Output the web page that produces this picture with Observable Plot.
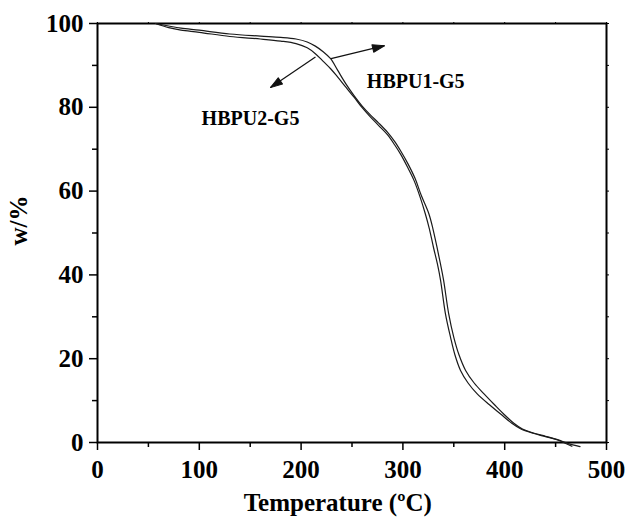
<!DOCTYPE html>
<html><head><meta charset="utf-8">
<script src="https://cdn.jsdelivr.net/npm/d3@7"></script>
<script src="https://cdn.jsdelivr.net/npm/@observablehq/plot@0.6"></script>
<style>body{margin:0;background:#fff}</style>
</head><body><div id="chart"></div>
<script>
// HBPU1-G5 (upper curve on the plateau)
const temp1 = [57,70,82,100,130,160,180,195,206,214,222,229,236,244,252,260,268,276,285,292,298,305,312,318,325.5,329.5,333.5,337,340,345,350,355,361.6,370,379.7,390,399,409,417,429,440,452,462,474];
const w1    = [100,99.4,98.9,98.4,97.5,97.0,96.7,96.3,95.6,94.6,93.2,91.6,88.8,85.6,82.8,80.3,78.2,76.3,74,71.8,69.5,66.5,63,59,54.6,51,46.6,42.5,38.7,30.7,25.1,21,17.2,14.2,11.6,9,6.8,4.6,3.3,2.2,1.5,0.7,-0.2,-1];
// HBPU2-G5 (lower curve on the plateau)
const temp2 = [57,70,82,100,130,160,180,195,206,214,222,229,236,244,252,260,268,276,285,292,298,305,311,317,322,326,330,334,337,341.8,346.8,351,356.6,364,373,385,396,407,415.5,428,440,452,466];
const w2    = [100,99.0,98.4,97.9,96.9,96.3,95.8,95.2,94.2,92.8,90.9,89.2,87.2,84.8,82.4,79.9,77.7,75.7,73.4,71,68.7,65.5,62.5,58.5,54.6,51,46.6,42.5,38.7,30.7,25.1,21,17.2,14.2,11.6,9,6.8,4.6,3.3,2.2,1.4,0.6,-0.9];

const labelText = ["HBPU1-G5","HBPU2-G5"];
const labelX = [312.6,150.3];
const labelY = [86.2,77.2];
const arrowX1 = [229.4,214.1], arrowY1 = [91.6,92.0];
const arrowX2 = [281.9,169.9], arrowY2 = [94.7,84.7];

const xTicks = [0,100,200,300,400,500];
const xMinor = [50,150,250,350,450];
const yTicks = [0,20,40,60,80,100];
const yMinor = [10,30,50,70,90];
const xTitle = "Temperature (ºC)";
const xTitlePos = 236;
const yTitle = "w/%";
const yTitlePos = 53;

const W = 627, H = 518, mL = 97, mR = 21, mT = 23, mB = 76;
const kx = (W - mL - mR) / 500, ky = (H - mT - mB) / 100;

const s1 = temp1.map((t,i)=>({t, w:w1[i]}));
const s2 = temp2.map((t,i)=>({t, w:w2[i]}));
const labels = labelText.map((s,i)=>({s, x:labelX[i], y:labelY[i]}));
const arrows = arrowX1.map((_,i)=>({x1:arrowX1[i],y1:arrowY1[i],x2:arrowX2[i],y2:arrowY2[i]}));
// direction of each arrow on screen (degrees clockwise from up)
const rot = d => Math.atan2((d.x2-d.x1)*kx, (d.y2-d.y1)*ky) * 180 / Math.PI;
const headShape = {draw(ctx, l){ ctx.moveTo(0,-l); ctx.lineTo(-3.8,0); ctx.lineTo(3.8,0); ctx.closePath(); }};

const font = {fontFamily:"Liberation Serif", fontWeight:"bold"};
const plot = Plot.plot({
  width: W, height: H,
  marginLeft: mL, marginRight: mR, marginTop: mT, marginBottom: mB,
  style: {fontFamily:"Liberation Serif", fontWeight:"bold", background:"#fff", color:"#000"},
  x: {domain:[0,500]},
  y: {domain:[0,100]},
  marks: [
    Plot.axisX({ticks:xMinor, tickSize:5, tickFormat:()=>"", strokeWidth:1.5, label:null}),
    Plot.axisX({anchor:"top", ticks:[...xTicks,...xMinor], tickSize:2, tickFormat:()=>"", label:null}),
    Plot.axisX({ticks:xTicks, tickSize:8, tickPadding:10, strokeWidth:1.5, fontSize:25, ...font, label:null}),
    Plot.axisY({ticks:yMinor, tickSize:5, tickFormat:()=>"", strokeWidth:1.5, label:null}),
    Plot.axisY({anchor:"right", ticks:[...yTicks,...yMinor], tickSize:2, tickFormat:()=>"", label:null}),
    Plot.axisY({ticks:yTicks, tickSize:8, tickPadding:6, strokeWidth:1.5, fontSize:25, ...font, label:null}),
    Plot.text([xTitle], {x:[xTitlePos], frameAnchor:"bottom", dy:68, fontSize:25, ...font, fill:"#000"}),
    Plot.text([yTitle], {y:[yTitlePos], frameAnchor:"left", dx:-79, rotate:-90, textAnchor:"middle", fontSize:25, ...font, fill:"#000"}),
    Plot.frame({stroke:"#000", strokeWidth:2}),
    Plot.line(s1, {x:"t", y:"w", stroke:"#1a1a1a", strokeWidth:1.2, curve:"catmull-rom"}),
    Plot.line(s2, {x:"t", y:"w", stroke:"#1a1a1a", strokeWidth:1.2, curve:"catmull-rom"}),
    Plot.link(arrows, {x1:"x1", y1:"y1", x2:"x2", y2:"y2", stroke:"#111", strokeWidth:1.2}),
    Plot.vector(arrows, {x:"x2", y:"y2", anchor:"end", length:12, rotate:rot, shape:headShape, fill:"#111", stroke:"#111", strokeWidth:1}),
    Plot.text(labels, {x:"x", y:"y", text:"s", fontSize:20, ...font, fill:"#000"})
  ]
});
document.getElementById("chart").append(plot);
</script></body></html>
